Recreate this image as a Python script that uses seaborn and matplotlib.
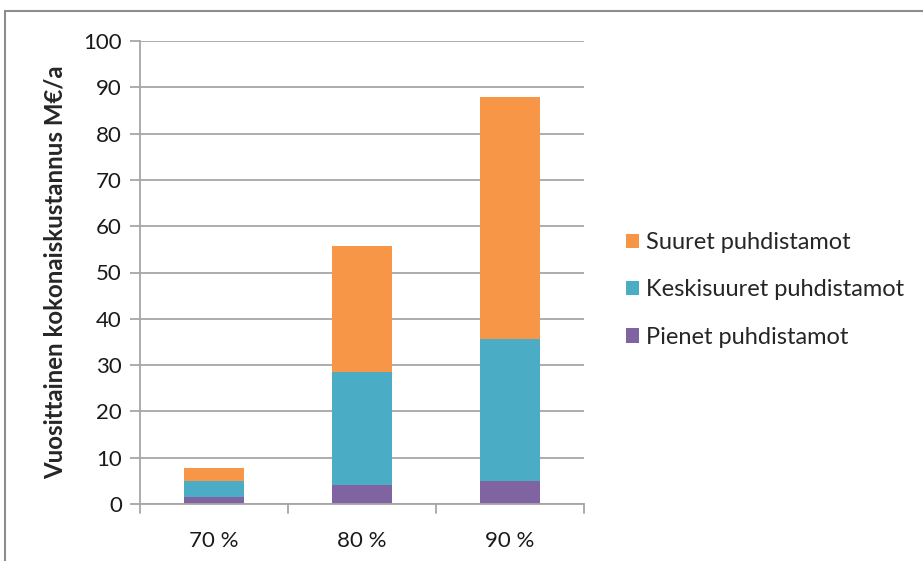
import matplotlib
matplotlib.use("Agg")
import matplotlib.pyplot as plt
import seaborn as sns
import pandas as pd
import numpy as np
from matplotlib.patches import Patch
from matplotlib.lines import Line2D

# Annual total cost by treatment level, split by plant size (M€/a)
levels = ["70 %", "80 %", "90 %"]
pienet = [1.6, 4.2, 5.0]
keskisuuret = [3.4, 24.3, 30.6]
suuret = [2.8, 27.3, 52.2]

series_names = ["Suuret puhdistamot", "Keskisuuret puhdistamot", "Pienet puhdistamot"]
colors = {"Suuret puhdistamot": "#F79646",
          "Keskisuuret puhdistamot": "#4BACC6",
          "Pienet puhdistamot": "#8064A2"}

sns.set_style("white")
plt.rcParams["font.family"] = ["Lato", "DejaVu Sans"]

df = pd.DataFrame({"taso": levels, "pienet": pienet,
                   "keski": keskisuuret, "suuret": suuret})
df["cum_pienet"] = df["pienet"]
df["cum_keski"] = df["pienet"] + df["keski"]
df["cum_suuret"] = df["cum_keski"] + df["suuret"]

fig = plt.figure(figsize=(9.23, 5.61), dpi=100)
ax = fig.add_axes([140 / 923, (561 - 504) / 561, (584 - 140) / 923, (504 - 41) / 561])

# stacked bars: draw cumulative totals from the top layer down
for col, name in [("cum_suuret", "Suuret puhdistamot"),
                  ("cum_keski", "Keskisuuret puhdistamot"),
                  ("cum_pienet", "Pienet puhdistamot")]:
    sns.barplot(data=df, x="taso", y=col, color=colors[name], width=0.405,
                saturation=1, ax=ax, edgecolor="none", linewidth=0)

ax.set_xlim(-0.5, 2.5)
ax.set_ylim(0, 100)
ax.set_yticks(np.arange(0, 101, 10))
ax.yaxis.grid(True, color="#A6A6A6", linewidth=1.3)
ax.set_axisbelow(True)
ax.set_xlabel("")
ax.set_ylabel("Vuosittainen kokonaiskustannus M€/a", fontsize=17.3,
              fontweight="bold", labelpad=12)

for side in ["top", "right"]:
    ax.spines[side].set_visible(False)
for side in ["left", "bottom"]:
    ax.spines[side].set_color("#A6A6A6")
    ax.spines[side].set_linewidth(1.3)

ax.tick_params(axis="y", which="both", left=True, length=7, width=1.3,
               color="#A6A6A6", labelsize=16, pad=6, labelcolor="#1a1a1a")
ax.tick_params(axis="x", bottom=False, labelsize=16, pad=16, labelcolor="#1a1a1a")

# category boundary ticks below the x axis
for xb in [-0.5, 0.5, 1.5, 2.5]:
    ax.plot([xb, xb], [0, -2.0], color="#A6A6A6", linewidth=1.3, clip_on=False)

handles = [Patch(facecolor=colors[n], edgecolor="none") for n in series_names]
leg = fig.legend(handles, series_names, loc="center left",
                 bbox_to_anchor=(605 / 923, 1 - 290 / 561), frameon=False,
                 fontsize=17, handlelength=0.55, handleheight=0.55,
                 handletextpad=0.3, labelspacing=1.12)

# outer chart border
fig.add_artist(Line2D([5 / 923, 5 / 923], [0, 1 - 11 / 561], transform=fig.transFigure,
                      color="#8C8C8C", linewidth=1.5))
fig.add_artist(Line2D([5 / 923, 1], [1 - 11 / 561, 1 - 11 / 561], transform=fig.transFigure,
                      color="#8C8C8C", linewidth=1.5))

fig.savefig("out.png", dpi=100)
